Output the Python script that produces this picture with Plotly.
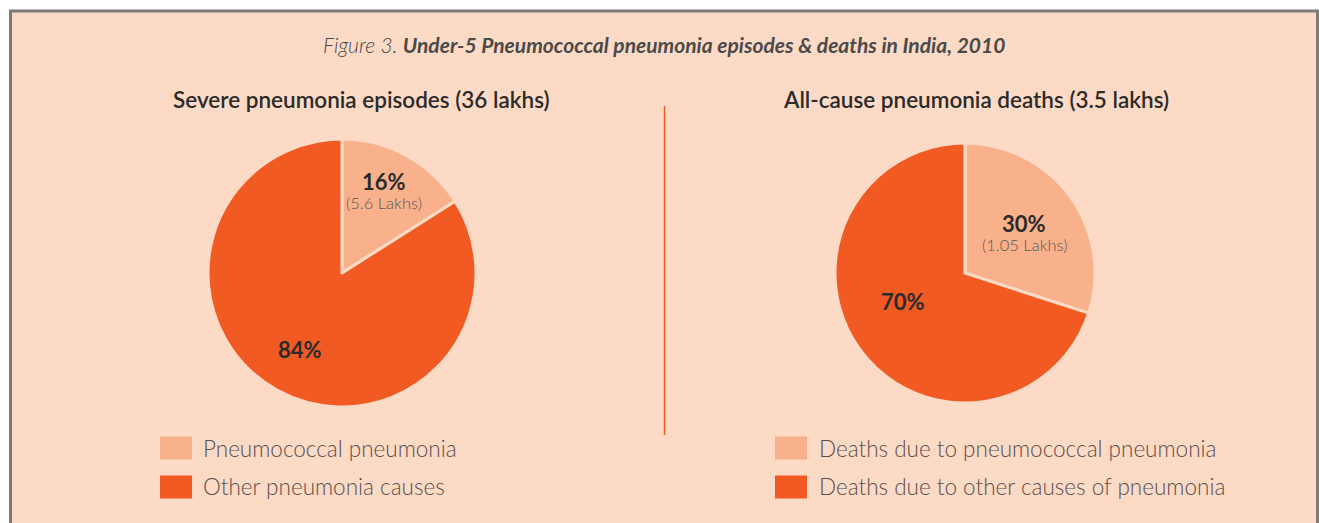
import plotly.graph_objects as go

W, H = 1319, 523

# ---- data ----
left_labels = ["Pneumococcal pneumonia", "Other pneumonia causes"]
left_values = [16, 84]
left_lakhs = ["5.6 Lakhs", None]
right_labels = ["Deaths due to pneumococcal pneumonia", "Deaths due to other causes of pneumonia"]
right_values = [30, 70]
right_lakhs = ["1.05 Lakhs", None]
left_title = "Severe pneumonia episodes (36 lakhs)"
right_title = "All-cause pneumonia deaths (3.5 lakhs)"
fig_label = "Figure 3."
fig_title = "Under-5 Pneumococcal pneumonia episodes & deaths in India, 2010"

BG = "#fddac5"
LIGHT = "#f9b18b"
DARK = "#f15a22"
COLORS = [LIGHT, DARK]
FONT = "Lato"

def px(x):
    return x / W

def py(y):
    return 1 - y / H

fig = go.Figure()

# pies: (center x, center y, radius) in pixels
pies = [
    (left_labels, left_values, (342, 273, 134)),
    (right_labels, right_values, (965, 273, 130)),
]
for labels, values, (cx, cy, r) in pies:
    fig.add_trace(go.Pie(
        labels=labels, values=values, sort=False, direction="clockwise",
        rotation=0, textinfo="none", hoverinfo="label+percent",
        marker=dict(colors=COLORS, line=dict(color=BG, width=3)),
        domain=dict(x=[px(cx - r), px(cx + r)], y=[py(cy + r), py(cy - r)]),
        showlegend=False,
    ))

def ann(x, y, text, font, xanchor="center"):
    return dict(x=px(x), y=py(y), xref="paper", yref="paper", showarrow=False,
                xanchor=xanchor, yanchor="middle", text=text, font=font)

annotations = []
# title
annotations.append(ann(
    664, 44,
    f"<span style='font-weight:300'><i>{fig_label} </i></span><b><i>{fig_title}</i></b>",
    dict(family=FONT, size=21, color="#4a4a4a"),
))
# subtitles
for t, x in [(left_title, 361), (right_title, 976)]:
    annotations.append(ann(x, 100, t, dict(family=FONT, size=22.5, color="#2b2b2b", weight=600)))

# slice labels (positions in pixels)
label_pos = [
    [(384, 181, 203), (300, 349, None)],
    [(1024, 223, 245), (903, 301, None)],
]
all_vals = [left_values, right_values]
all_lakhs = [left_lakhs, right_lakhs]
for vals, lakhs, poss in zip(all_vals, all_lakhs, label_pos):
    for v, lk, (x, y1, y2) in zip(vals, lakhs, poss):
        annotations.append(ann(x, y1, f"<b>{v}%</b>", dict(family=FONT, size=22, color="#2b2b2b")))
        if lk:
            annotations.append(ann(x, y2, f"({lk})",
                                   dict(family=FONT, size=16.5, color="#5a5a5a", weight=300)))

shapes = []
# outer frame
shapes.append(dict(type="rect", xref="paper", yref="paper",
                   x0=px(10.5), x1=px(1317.5), y0=py(560), y1=py(11),
                   line=dict(color="#7a7a7a", width=3), fillcolor=BG, layer="below"))
# divider
shapes.append(dict(type="line", xref="paper", yref="paper",
                   x0=px(664.5), x1=px(664.5), y0=py(106), y1=py(435),
                   line=dict(color=DARK, width=1.5)))

# legends
legend_x = [(160, 201), (775, 817)]
rows_y = [448, 487]
for labels, (sx, tx) in zip([left_labels, right_labels], legend_x):
    for lab, col, yy in zip(labels, COLORS, rows_y):
        shapes.append(dict(type="rect", xref="paper", yref="paper",
                           x0=px(sx), x1=px(sx + 32), y0=py(yy + 11.5), y1=py(yy - 11.5),
                           line=dict(width=0), fillcolor=col))
        annotations.append(ann(tx, yy, lab,
                               dict(family=FONT, size=22.5, color="#5a4f4c", weight=300),
                               xanchor="left"))

fig.update_layout(
    width=W, height=H, margin=dict(l=0, r=0, t=0, b=0),
    paper_bgcolor="white", plot_bgcolor="white",
    annotations=annotations, shapes=shapes,
)

fig.write_html("out.html", config={"displayModeBar": False},
               post_script="document.body.style.margin='0';")
